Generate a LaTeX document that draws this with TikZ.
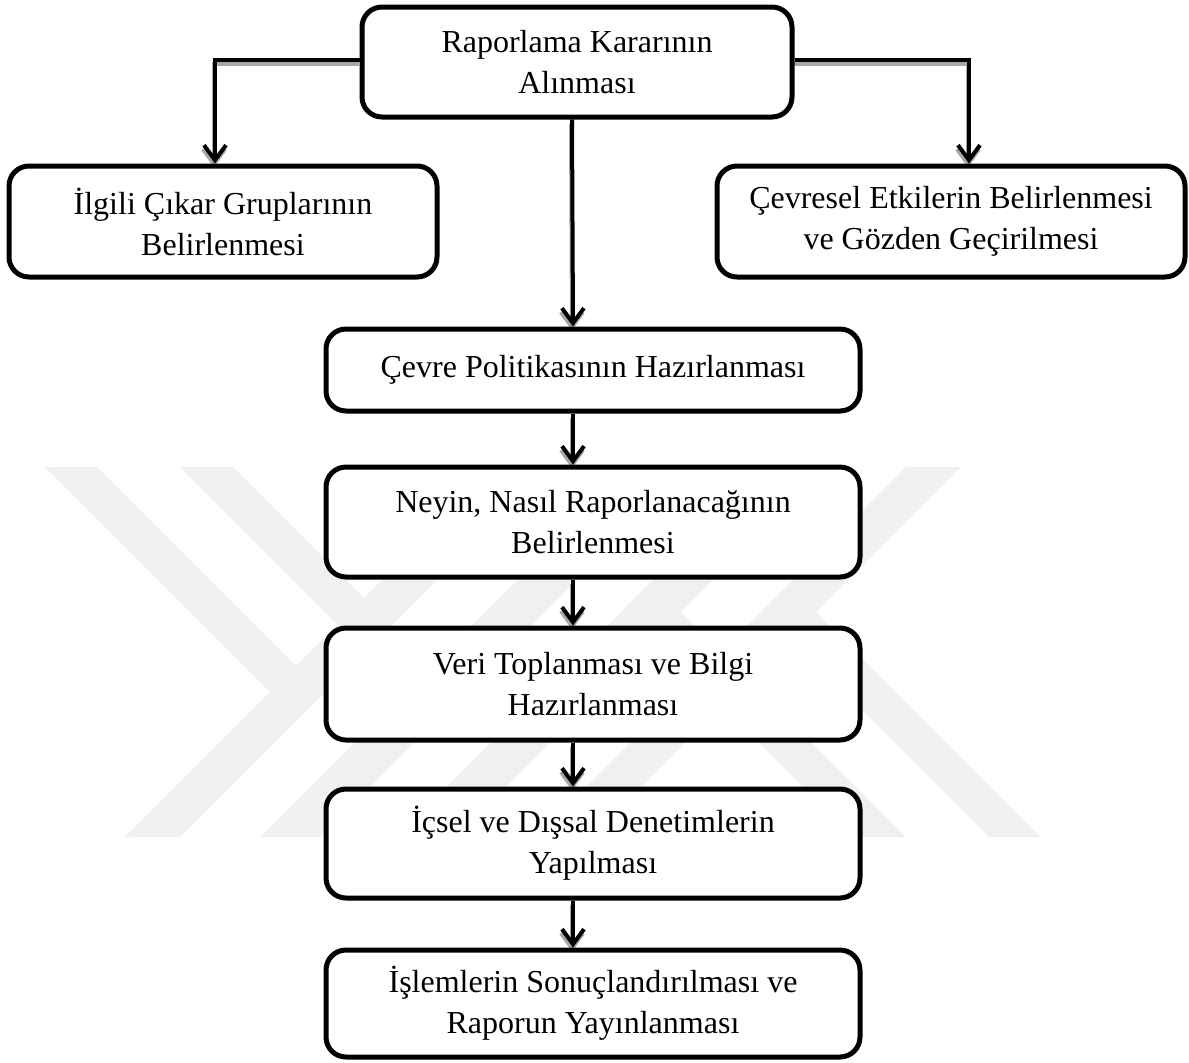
\documentclass[tikz,border=0pt]{standalone}
\usepackage{fontspec}
\setmainfont{Liberation Serif}
\usetikzlibrary{arrows.meta,calc}
\pgfdeclarelayer{wmark}
\pgfdeclarelayer{lines}
\pgfsetlayers{wmark,lines,main}
\begin{document}
\begin{tikzpicture}[x=0.5pt,y=-0.5pt,
  box/.style={draw=black, line width=2.5pt, rounded corners=10pt, fill=white,
    align=center, inner sep=0pt, font=\fontsize{16}{20.5}\selectfont},
  wide/.style={minimum width=267pt},
  tipstyle/.style={-{Straight Barb[length=7.5pt,width=11pt]}},
  conn/.style={tipstyle, line width=2pt, draw=black},
  connshadow/.style={tipstyle, line width=2pt, draw=black!35,
    transform canvas={xshift=-0.5pt,yshift=-2pt}},
  wm/.style={fill=black!6}
]
\useasboundingbox (0,0) rectangle (1189,1062);

% faint logo in the background
\begin{pgfonlayer}{wmark}
  \fill[wm] (125,837) -- (180,837) -- (550,467) -- (495,467) -- cycle;
  \fill[wm] (45,467) -- (97,467) -- (323.5,693.5) -- (297.5,719.5) -- cycle;
  \fill[wm] (260,837) -- (320,837) -- (690,467) -- (630,467) -- cycle;
  \fill[wm] (180,467) -- (233,467) -- (461.5,695.5) -- (435,722) -- cycle;
  \fill[wm] (961,467) -- (906,467) -- (536,837) -- (591,837) -- cycle;
  \fill[wm] (1041,837) -- (989,837) -- (762.5,610.5) -- (788.5,584.5) -- cycle;
  \fill[wm] (826,467) -- (766,467) -- (396,837) -- (456,837) -- cycle;
  \fill[wm] (906,837) -- (853,837) -- (624.5,608.5) -- (651,582) -- cycle;
\end{pgfonlayer}

% process steps
\node[box, minimum width=215pt, minimum height=55pt] (top) at (577,62)
  {Raporlama Kararının\\Alınması};
\node[box, minimum width=214pt, minimum height=55.5pt] (stake) at (223,221.5)
  {İlgili Çıkar Gruplarının\\Belirlenmesi};
\node[box, minimum width=234pt, minimum height=55.5pt] (env) at (951,221.5)
  {Çevresel Etkilerin Belirlenmesi\\ve Gözden Geçirilmesi};
\node[box, wide, minimum height=41pt] (policy) at (593,370)
  {Çevre Politikasının Hazırlanması};
\node[box, wide, minimum height=55pt] (what) at (593,522)
  {Neyin, Nasıl Raporlanacağının\\Belirlenmesi};
\node[box, wide, minimum height=56pt] (data) at (593,684)
  {Veri Toplanması ve Bilgi\\Hazırlanması};
\node[box, wide, minimum height=54.5pt] (audit) at (593,843.5)
  {İçsel ve Dışsal Denetimlerin\\Yapılması};
\node[box, wide, minimum height=53.5pt] (final) at (593,1003.5)
  {İşlemlerin Sonuçlandırılması ve\\Raporun Yayınlanması};

% connectors, each with a soft grey shadow underneath
\begin{pgfonlayer}{lines}
  \foreach \s in {connshadow,conn}{
    \draw[\s] ([yshift=1.25pt]top.west) -| ([xshift=-4pt]stake.north);
    \draw[\s] ([yshift=1.25pt]top.east) -| ([xshift=9pt]env.north);
    \draw[\s] ([xshift=-2.5pt]top.south) -- ([xshift=-10pt]policy.north);
    \draw[\s] ([xshift=-10pt]policy.south) -- ([xshift=-10pt]what.north);
    \draw[\s] ([xshift=-10pt]what.south) -- ([xshift=-10pt]data.north);
    \draw[\s] ([xshift=-10pt]data.south) -- ([xshift=-10pt]audit.north);
    \draw[\s] ([xshift=-10pt]audit.south) -- ([xshift=-10pt]final.north);
  }
\end{pgfonlayer}
\end{tikzpicture}
\end{document}
